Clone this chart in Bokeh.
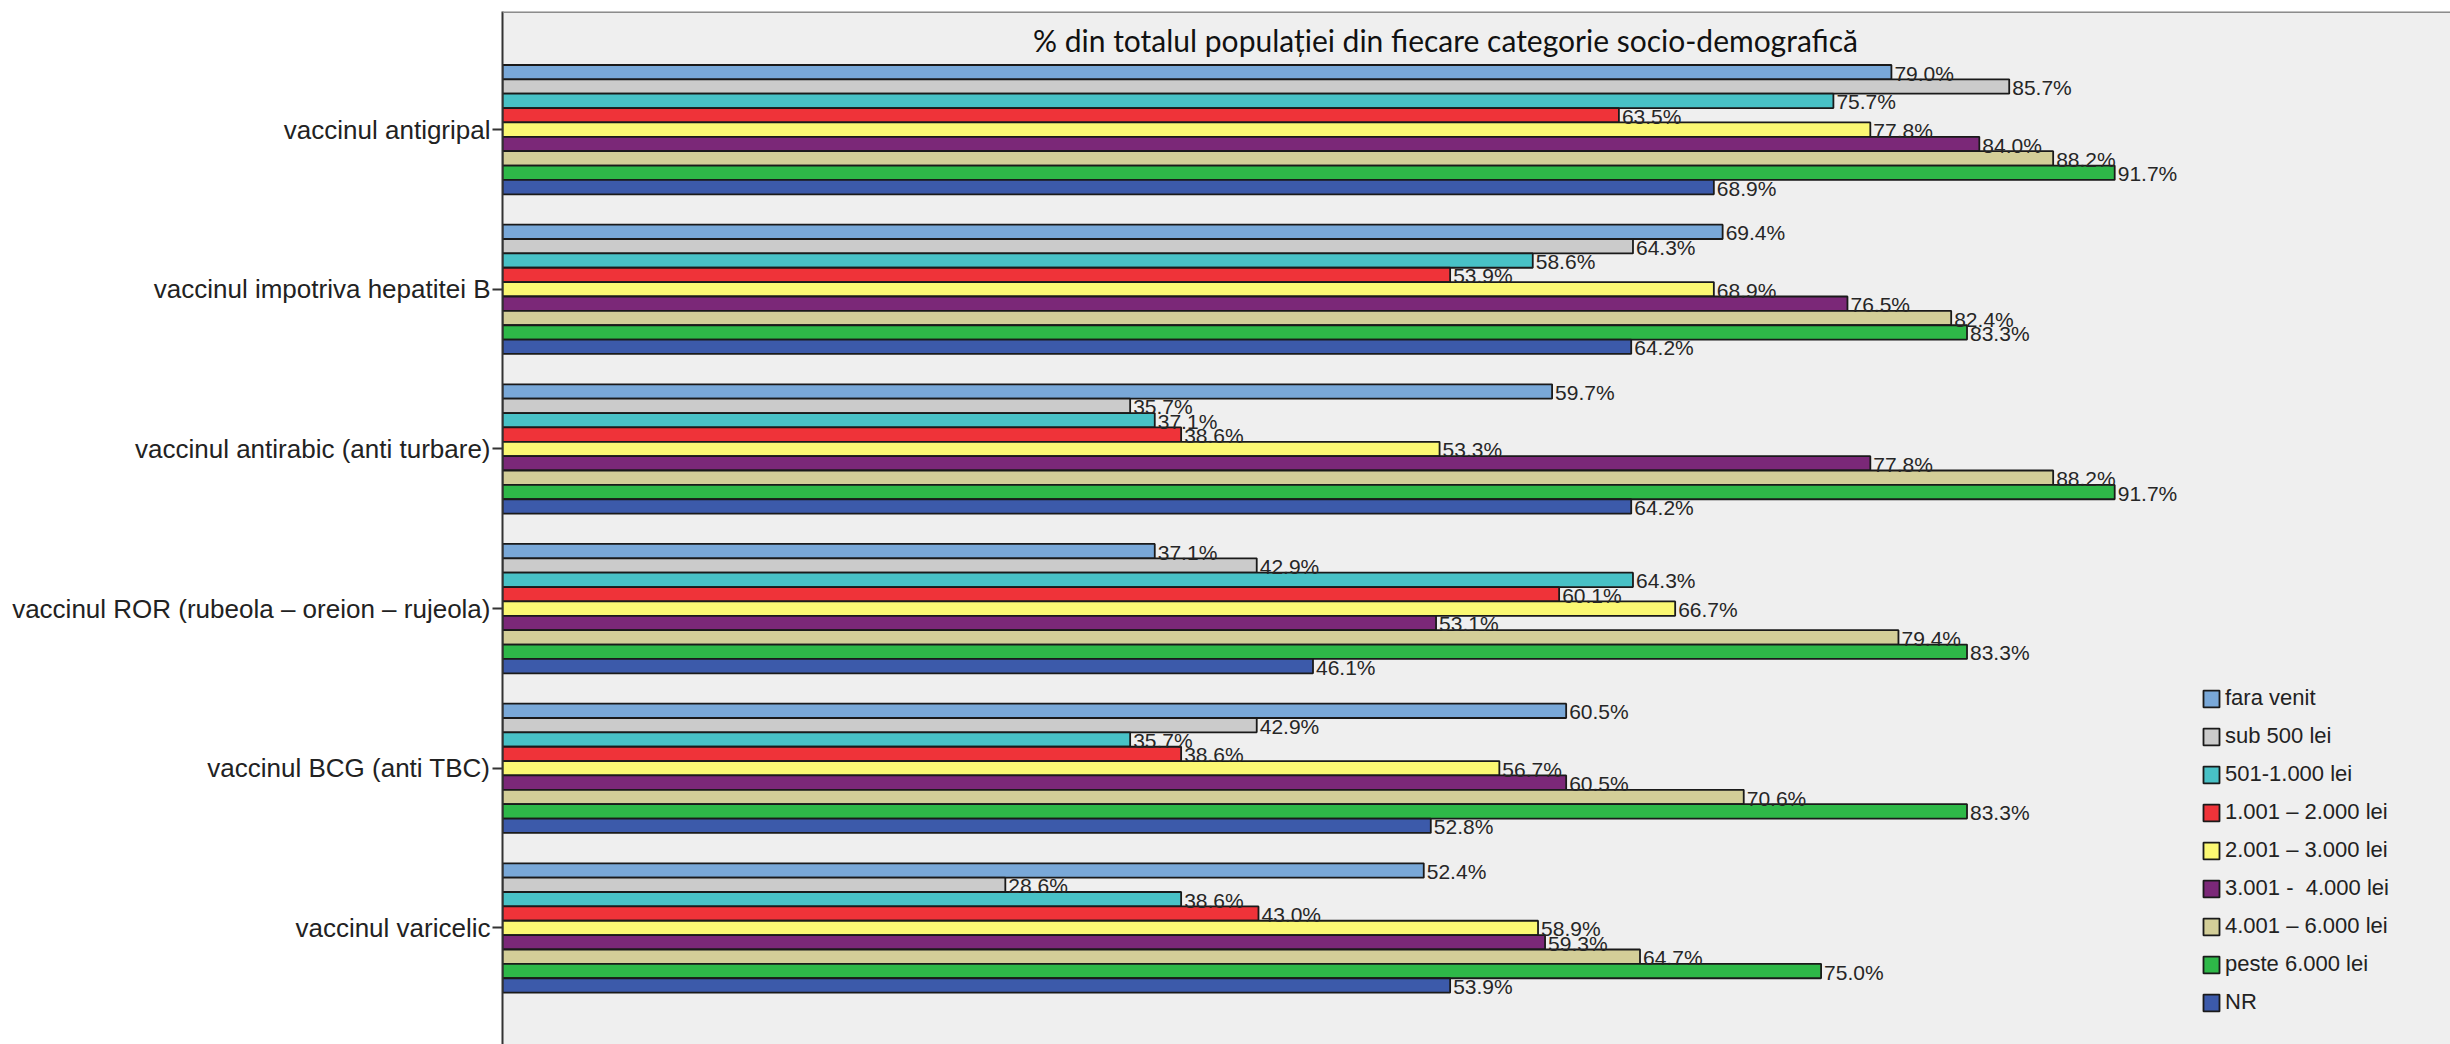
from bokeh.plotting import figure
from bokeh.models import (Range1d, FixedTicker, Legend, LegendItem, Label, Span,
                          ColumnDataSource)
from bokeh.transform import dodge
from bokeh.core.properties import value
from bokeh.embed import file_html
from bokeh.resources import INLINE

# ---------------- data ----------------
vaccines = [
    "vaccinul antigripal",
    "vaccinul impotriva hepatitei B",
    "vaccinul antirabic (anti turbare)",
    "vaccinul ROR (rubeola – oreion – rujeola)",
    "vaccinul BCG (anti TBC)",
    "vaccinul varicelic",
]
income_groups = [
    "fara venit",
    "sub 500 lei",
    "501-1.000 lei",
    "1.001 – 2.000 lei",
    "2.001 – 3.000 lei",
    "3.001 -  4.000 lei",
    "4.001 – 6.000 lei",
    "peste 6.000 lei",
    "NR",
]
fara_venit = [79.0, 69.4, 59.7, 37.1, 60.5, 52.4]
sub_500 = [85.7, 64.3, 35.7, 42.9, 42.9, 28.6]
v501_1000 = [75.7, 58.6, 37.1, 64.3, 35.7, 38.6]
v1001_2000 = [63.5, 53.9, 38.6, 60.1, 38.6, 43.0]
v2001_3000 = [77.8, 68.9, 53.3, 66.7, 56.7, 58.9]
v3001_4000 = [84.0, 76.5, 77.8, 53.1, 60.5, 59.3]
v4001_6000 = [88.2, 82.4, 88.2, 79.4, 70.6, 64.7]
peste_6000 = [91.7, 83.3, 91.7, 83.3, 83.3, 75.0]
nr = [68.9, 64.2, 64.2, 46.1, 52.8, 53.9]
series = [fara_venit, sub_500, v501_1000, v1001_2000, v2001_3000,
          v3001_4000, v4001_6000, peste_6000, nr]
colors = ["#79A8D8", "#CBCBCB", "#48C1C6", "#EF3339", "#FBF873",
          "#7B2878", "#D3CE98", "#2EB848", "#3C5AAA"]
title_text = "% din totalul populației din fiecare categorie socio-demografică"

# ---------------- figure ----------------
BAR_H = 0.09
Y_TOP = -0.74
Y_BOTTOM = len(vaccines) - 1 + 0.73

p = figure(width=2450, height=1044, output_backend="svg", toolbar_location=None,
           x_range=Range1d(0, 110.8), y_range=Range1d(Y_BOTTOM, Y_TOP),
           min_border_left=502, min_border_top=11, min_border_bottom=0,
           min_border_right=0)
p.background_fill_color = "#EFEFEF"
p.border_fill_color = "white"
p.outline_line_color = None
p.xaxis.visible = False
p.xgrid.grid_line_color = None
p.ygrid.grid_line_color = None

data = {"pos": list(range(len(vaccines)))}
for k, vals in enumerate(series):
    data[f"s{k}"] = vals
    data[f"t{k}"] = [f"{v:.1f}%" for v in vals]
src = ColumnDataSource(data)

items = []
for k, name in enumerate(income_groups):
    off = (k - (len(income_groups) - 1) / 2) * BAR_H
    r = p.hbar(y=dodge("pos", off), left=0, right=f"s{k}", height=BAR_H,
               source=src, fill_color=colors[k], line_color="#1A1A1A",
               line_width=1.8)
    items.append(LegendItem(label=name, renderers=[r]))
for k, name in enumerate(income_groups):
    off = (k - (len(income_groups) - 1) / 2) * BAR_H
    p.text(x=f"s{k}", y=dodge("pos", off), text=f"t{k}", source=src,
           x_offset=3, y_offset=1, text_baseline="middle", text_align="left",
           text_font=value("Liberation Sans"), text_font_size="21px",
           text_color="#262626")

# y axis with the vaccine names
yax = p.yaxis[0]
yax.ticker = FixedTicker(ticks=list(range(len(vaccines))))
yax.major_label_overrides = {i: v for i, v in enumerate(vaccines)}
yax.minor_tick_line_color = None
yax.major_tick_out = 10
yax.major_tick_in = 0
yax.major_tick_line_width = 2
yax.major_tick_line_color = "#333333"
yax.axis_line_color = "#333333"
yax.axis_line_width = 2
yax.major_label_standoff = 2
yax.major_label_text_font = "Liberation Sans"
yax.major_label_text_font_size = "26px"
yax.major_label_text_color = "#222222"

# top frame line
p.add_layout(Span(location=Y_TOP, dimension="width", line_color="#8C8C8C",
                  line_width=3))

# title inside the frame
p.add_layout(Label(x=943, y=1005, x_units="screen", y_units="screen",
                   text=title_text, text_align="center", text_baseline="middle",
                   text_font="Lato", text_font_size="30px", text_color="#111111"))

legend = Legend(items=items, location=(1699, 29), background_fill_alpha=0,
                border_line_color=None, padding=0, margin=0, spacing=12,
                glyph_width=20, glyph_height=21, label_height=25,
                label_standoff=4, label_text_font="Liberation Sans",
                label_text_font_size="22px", label_text_color="#222222")
p.add_layout(legend)

open("out.html", "w").write(file_html(p, INLINE))
